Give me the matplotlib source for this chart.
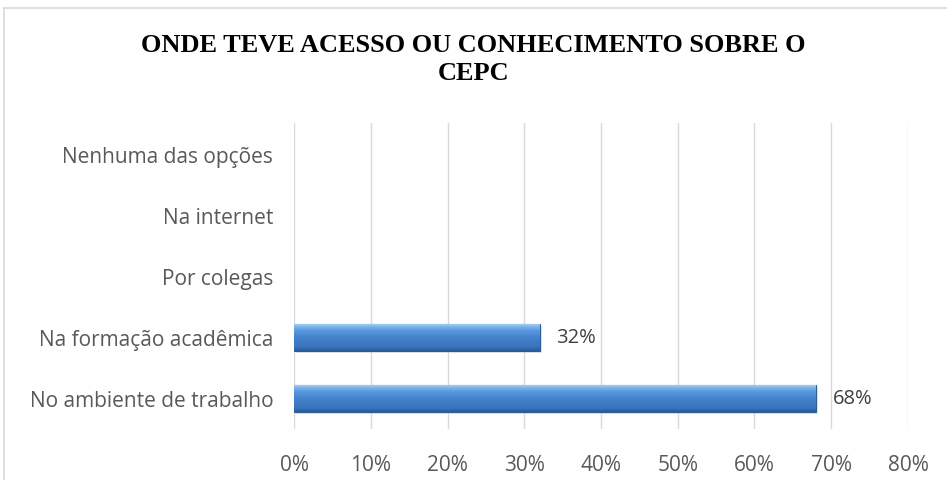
import numpy as np
import matplotlib.pyplot as plt
from matplotlib.lines import Line2D
from matplotlib.colors import LinearSegmentedColormap

categories = ['No ambiente de trabalho', 'Na formação acadêmica', 'Por colegas',
              'Na internet', 'Nenhuma das opções']
values = [68, 32, 0, 0, 0]
xticks = [0, 10, 20, 30, 40, 50, 60, 70, 80]
title_lines = ['ONDE TEVE ACESSO OU CONHECIMENTO SOBRE O', 'CEPC']

fig = plt.figure(figsize=(9.47, 4.81), dpi=100)
ax = fig.add_axes([0.3105, 0.106, 0.6483, 0.636])

y = np.arange(len(categories))
bar_h = 0.44

# soft shadow under the bars
ax.barh(y - 0.04, values, height=bar_h, left=0.25, color='#c8c8c8',
        alpha=0.45, linewidth=0, zorder=2)
bars = ax.barh(y, values, height=bar_h, color='#4684cf', edgecolor='#2c5d96',
               linewidth=0.8, zorder=3)

# vertical gradient on each bar (dark bottom, light top)
cmap = LinearSegmentedColormap.from_list(
    'bev', [(0.0, '#2a5a98'), (0.15, '#3a74bd'), (0.5, '#4482cd'),
            (0.75, '#5896dc'), (0.9, '#7ab2ec'), (1.0, '#a0caf4')])
grad = np.linspace(0, 1, 100).reshape(-1, 1)
for b, v in zip(bars, values):
    if v <= 0:
        b.set_linewidth(0)
        continue
    x0, y0 = b.get_x(), b.get_y()
    im = ax.imshow(grad, cmap=cmap, aspect='auto', origin='lower',
                   extent=(x0, x0 + b.get_width(), y0, y0 + b.get_height()),
                   zorder=3.5)
    im.set_clip_path(b)
    ax.text(v + 2.2, b.get_y() + b.get_height() / 2, f'{v}%', va='center',
            ha='left', fontsize=14.5, color='#404040', family='Open Sans')

ax.set_xlim(0, 80)
ax.set_ylim(-0.5, len(categories) - 0.5)
ax.set_xticks(xticks)
ax.set_xticklabels([f'{t}%' for t in xticks])
ax.set_yticks(y)
ax.set_yticklabels(categories)
ax.xaxis.grid(True, color='#d9d9d9', linewidth=1, zorder=0)
ax.set_axisbelow(True)
for s in ax.spines.values():
    s.set_visible(False)
ax.tick_params(axis='both', length=0, labelsize=15, labelcolor='#595959')
ax.tick_params(axis='x', pad=18)
ax.tick_params(axis='y', pad=15)
for lbl in ax.get_xticklabels() + ax.get_yticklabels():
    lbl.set_family('Open Sans')

fig.text(0.5, 1 - 46 / 481, title_lines[0], ha='center', va='center',
         fontsize=19, fontweight='bold', family='Liberation Serif')
fig.text(0.5, 1 - 74 / 481, title_lines[1], ha='center', va='center',
         fontsize=19, fontweight='bold', family='Liberation Serif')

# chart area border (left and top visible)
fig.add_artist(Line2D([4 / 947, 4 / 947], [0, 1 - 9 / 481], color='#d9d9d9',
                      lw=1.2, transform=fig.transFigure))
fig.add_artist(Line2D([4 / 947, 1], [1 - 9 / 481, 1 - 9 / 481], color='#d9d9d9',
                      lw=1.2, transform=fig.transFigure))

fig.savefig('out.png', dpi=100, facecolor='white')
